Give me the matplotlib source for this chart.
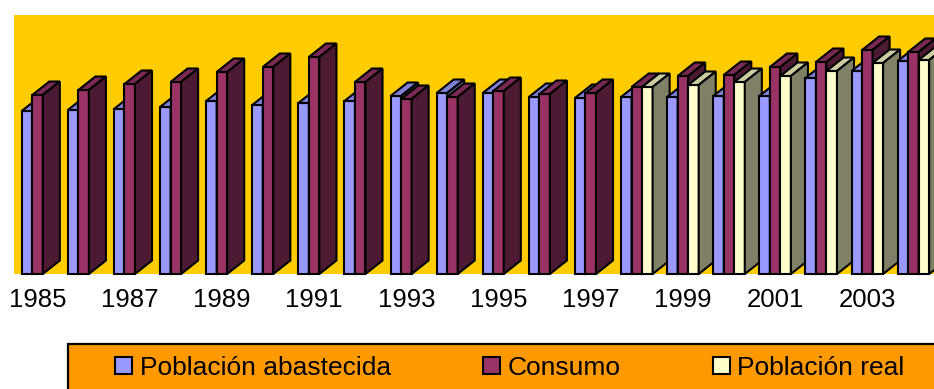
import numpy as np
import matplotlib
matplotlib.use('Agg')
import matplotlib.pyplot as plt
from matplotlib.patches import Polygon, Rectangle, Patch

plt.rcParams['font.family'] = ['Liberation Sans', 'DejaVu Sans']

# datos (unidades relativas, sin eje de valores)
years = list(range(1985, 2005))
abastecida = [163, 164, 165, 167, 173, 169, 171, 173, 178, 181,
              181, 177, 176, 177, 177, 178, 178, 196, 203, 213]
consumo = [179, 184, 190, 192, 202, 207, 217, 192, 175, 177,
           183, 180, 181, 187, 198, 199, 207, 212, 224, 222]
real = [np.nan] * 13 + [187, 189, 192, 198, 203, 211, 214]

series = ['Población abastecida', 'Consumo', 'Población real']
valores = [abastecida, consumo, real]
# colores: cara frontal, superior, lateral
colores = [('#9999FF', '#7F7FD4', '#5C5C99'),
           ('#993366', '#7A2952', '#4D1A33'),
           ('#FFFFCC', '#CCCCA3', '#808066')]

W, H = 934, 389
fig = plt.figure(figsize=(W / 100, H / 100), dpi=100)
ax = fig.add_axes([14 / W, (H - 274) / H, (W - 14) / W, 259 / H])
ax.set_facecolor('#FFCC00')
for s in ax.spines.values():
    s.set_visible(False)

ancho = 0.228
dx, dy = 0.37, 13.5   # profundidad 3D
x = np.arange(len(years))
for i in x:
    for k, vals in enumerate(valores):
        v = vals[i]
        if np.isnan(v):
            continue
        x0 = i + (k - 1.5) * ancho
        x1 = x0 + ancho
        frente = [(x0, 0), (x1, 0), (x1, v), (x0, v)]
        arriba = [(x0, v), (x1, v), (x1 + dx, v + dy), (x0 + dx, v + dy)]
        lado = [(x1, 0), (x1 + dx, dy), (x1 + dx, v + dy), (x1, v)]
        for pts, c in zip((frente, arriba, lado), colores[k]):
            ax.add_patch(Polygon(pts, closed=True, fc=c, ec='black', lw=1.5,
                                 joinstyle='miter', clip_on=False))

ax.set_xlim(-0.51, -0.51 + 920 / 46.1)
ax.set_ylim(0, 259)
ax.set_xticks(x[::2])
ax.set_xticklabels([str(y) for y in years[::2]])
ax.set_yticks([])
ax.tick_params(axis='x', length=0, pad=10, labelsize=18.5)

# caja de leyenda naranja
fig.add_artist(Rectangle((68 / W, -0.1), 1.0, (H - 344) / H + 0.1,
                         transform=fig.transFigure, fc='#FF9900', ec='black',
                         lw=1.6, clip_on=False))
handles = [Patch(fc=c[0], ec='black', lw=1.5) for c in colores]
fig.legend(handles, series, loc='center left',
           bbox_to_anchor=(115 / W, (H - 368) / H), ncol=3, frameon=False,
           fontsize=19, handlelength=0.63, handleheight=0.63,
           handletextpad=0.3, columnspacing=3.5, borderpad=0, borderaxespad=0)

fig.savefig('out.png', dpi=100)
